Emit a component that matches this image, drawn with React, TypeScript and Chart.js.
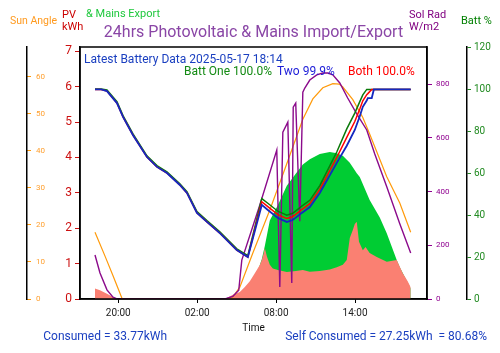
import React, { useEffect, useRef } from 'react';
import { Chart, registerables } from 'chart.js';

Chart.register(...registerables);

// Time values are hours counted from 00:00 on 2025-05-16 (24 = midnight, 32 = 08:00 on 2025-05-17)
const xMin = 17.09;
const xMax = 43.47;
const xTickHours = [20, 26, 32, 38];

// Sun angle (degrees)
const sunTimes = [18.23, 19.0, 19.6, 20.0, 20.3, 28.6, 29.24, 30.23, 31.52, 32.81, 34.03, 34.79, 35.55, 36.31, 36.8, 37.07, 37.83, 38.59, 39.11, 40.41, 41.4, 42.23];
const sunAngle = [18.0, 11.5, 6.3, 2.7, 0, 0, 3.2, 12.4, 24, 36.5, 48.5, 54, 57, 58.1, 58, 57.2, 53.8, 49, 44.5, 33, 25.9, 18];

// Solar radiation (W/m2)
const radTimes = [18.23, 18.61, 19.14, 19.6, 19.9, 28.1, 28.71, 29.16, 29.39, 30.76, 32.05, 32.28, 32.51, 32.89, 33.19, 33.3, 33.49, 33.8, 34.03, 34.18, 34.56, 35.09, 35.55, 35.93, 36.31, 36.84, 37.44, 38.13, 38.89, 39.5, 40.41, 41.4, 42.23];
const solarRad = [164, 97, 34, 7, 0, 0, 10, 33, 145, 350, 555, 45, 622, 659, 60, 715, 730, 290, 771, 786, 816, 835, 842, 842, 835, 805, 749, 690, 630, 540, 418, 280, 171];

// Battery state of charge (%)
const battTimes = [18.23, 18.7, 19.14, 19.9, 20.36, 21.12, 22.18, 22.94, 23.7, 24.68, 25.22, 25.98, 26.74, 27.72, 29.01, 29.85, 30.91, 31.37, 32.13, 32.81, 33.26, 33.95, 34.56, 35.32, 36.61, 37.37, 37.98, 38.36, 38.59, 38.89, 38.97, 39.27, 39.43, 42.23];
const battTwo = [99.8, 99.8, 99, 93.3, 86.7, 78, 67.6, 62.9, 60, 54.3, 50.5, 41, 36.7, 31.4, 23.3, 20, 44.8, 42.4, 38.6, 36.7, 37.6, 41, 43.8, 50.5, 64.8, 73, 80.5, 87, 91.5, 94.5, 95.7, 95.7, 99.8, 99.8];
const battOne = [100, 100, 99.5, 94, 87.3, 78.6, 68.2, 63.5, 60.6, 54.9, 51.1, 41.6, 37.3, 32, 23.9, 20.6, 47.8, 45.6, 41.8, 39.9, 40.8, 44.2, 47, 54, 70, 81, 88.5, 94, 97.2, 99.8, 99.8, 99.8, 99.8, 99.8];
const battBoth = [99.8, 99.8, 99, 93.3, 86.7, 78, 67.6, 62.9, 60, 54.3, 50.5, 41, 36.7, 31.4, 23.3, 20, 46.3, 44, 40.2, 38.3, 39.2, 42.6, 45.4, 52.2, 67.4, 77, 84.5, 90.5, 94.4, 97.3, 97.8, 99.8, 99.8, 99.8];

// PV used in house (kWh, salmon)
const houseTimes = [18.23, 18.61, 19.14, 19.6, 19.9, 28.1, 28.71, 29.24, 29.62, 30.0, 30.38, 30.76, 30.91, 31.06, 31.14, 31.3, 31.52, 31.75, 32.13, 32.81, 33.5, 34.03, 34.56, 35.32, 36.08, 36.61, 37.07, 37.37, 37.6, 37.83, 37.98, 38.13, 38.3, 38.59, 38.8, 39.11, 39.65, 40.41, 41.17, 41.63, 42.0, 42.23];
const houseKwh = [0.3, 0.25, 0.15, 0.06, 0, 0, 0.12, 0.2, 0.34, 0.5, 0.73, 0.96, 1.1, 1.3, 1.44, 1.2, 0.97, 0.86, 0.82, 0.76, 0.79, 0.82, 0.77, 0.79, 0.83, 0.9, 0.97, 1.1, 1.72, 1.95, 2.12, 2.18, 1.62, 1.38, 1.47, 1.3, 1.19, 1.05, 1.1, 0.73, 0.5, 0.33];

// PV generation / mains export (kWh, green)
const pvTimes = [18.23, 29.0, 30.0, 30.38, 30.91, 31.14, 31.52, 32.13, 32.81, 33.42, 34.03, 34.56, 35.32, 36.08, 36.61, 37.07, 37.6, 37.83, 38.13, 38.36, 39.11, 39.88, 40.41, 41.17, 41.4, 42.23];
const pvKwh = [0, 0, 0.3, 0.55, 1.12, 1.5, 2.22, 2.65, 3.2, 3.5, 3.8, 3.95, 4.1, 4.15, 4.12, 4.05, 3.85, 3.72, 3.55, 3.45, 2.8, 2.3, 1.86, 1.1, 0.9, 0.3];

const titleText = '24hrs Photovoltaic & Mains Import/Export';
const latestText = 'Latest Battery Data 2025-05-17 18:14';
const battOneText = 'Batt One 100.0%';
const battTwoText = 'Two 99.9%';
const battBothText = 'Both 100.0%';
const consumedText = 'Consumed = 33.77kWh';
const selfText = 'Self Consumed = 27.25kWh  = 80.68%';

const FONT = 'Roboto';

const pts = (xs: number[], ys: number[]) => xs.map((x, i) => ({ x, y: ys[i] }));

function txt(ctx: CanvasRenderingContext2D, s: string, x: number, y: number, color: string, size: number, align: CanvasTextAlign = 'left') {
  ctx.font = `${size}px ${FONT}`;
  ctx.fillStyle = color;
  ctx.textAlign = align;
  ctx.textBaseline = 'middle';
  ctx.fillText(s, x, y);
}

const framePlugin = {
  id: 'frame',
  afterDatasetsDraw(chart: any) {
    const { ctx, chartArea: ca } = chart;
    ctx.save();
    ctx.strokeStyle = '#000';
    ctx.lineWidth = 1.5;
    ctx.strokeRect(ca.left, ca.top, ca.right - ca.left, ca.bottom - ca.top);
    ctx.restore();
  },
  afterDraw(chart: any) {
    const { ctx, chartArea: ca } = chart;
    ctx.save();
    txt(ctx, titleText, (ca.left + ca.right) / 2, 33, '#8a46a6', 16, 'center');
    txt(ctx, 'Sun Angle', 10, 21, '#ff9a1f', 10.5);
    txt(ctx, 'PV', 62, 15, '#cc0000', 11);
    txt(ctx, 'kWh', 62, 27, '#cc0000', 11);
    txt(ctx, '& Mains Export', 86, 14, '#1ec83c', 11);
    txt(ctx, 'Sol Rad', 409, 15, '#800080', 11);
    txt(ctx, 'W/m2', 409, 27, '#800080', 11);
    txt(ctx, 'Batt %', 461, 21, '#008000', 11);
    txt(ctx, latestText, ca.left + 4, 60, '#1a3fc0', 12);
    txt(ctx, battOneText, 184, 72, '#138a13', 12);
    txt(ctx, battTwoText, 277, 72, '#1c1cd8', 12);
    txt(ctx, battBothText, 348, 72, '#ff0000', 12);
    txt(ctx, consumedText, 167, 337, '#1a3fc0', 12, 'right');
    txt(ctx, selfText, 487, 337, '#1a3fc0', 12, 'right');
    ctx.restore();
  },
};

function fmtHour(v: number) {
  const h = ((Math.round(v) % 24) + 24) % 24;
  return `${String(h).padStart(2, '0')}:00`;
}

export default function App() {
  const ref = useRef<HTMLCanvasElement>(null);

  useEffect(() => {
    if (!ref.current) return;
    Chart.defaults.font.family = FONT;
    const line = (label: string, xs: number[], ys: number[], color: string, axis: string, width: number) => ({
      label,
      data: pts(xs, ys),
      borderColor: color,
      backgroundColor: color,
      borderWidth: width,
      pointRadius: 0,
      fill: false,
      yAxisID: axis,
      tension: 0,
    });
    const area = (label: string, xs: number[], ys: number[], color: string) => ({
      label,
      data: pts(xs, ys),
      borderColor: color,
      backgroundColor: color,
      borderWidth: 0,
      pointRadius: 0,
      fill: 'origin',
      yAxisID: 'pv',
      tension: 0,
    });

    const chart = new Chart(ref.current, {
      type: 'line',
      data: {
        datasets: [
          line('Batt Two %', battTimes, battTwo, '#1428c0', 'batt', 1.8),
          line('Batt Both %', battTimes, battBoth, '#ff0000', 'batt', 1.5),
          line('Batt One %', battTimes, battOne, '#0a7a0a', 'batt', 1.5),
          line('Solar Radiation', radTimes, solarRad, '#8b0a8b', 'rad', 1.4),
          line('Sun Angle', sunTimes, sunAngle, '#ff9a0a', 'sun', 1.2),
          area('PV House', houseTimes, houseKwh, '#fa8072'),
          area('PV / Export', pvTimes, pvKwh, '#00cc33'),
        ] as any,
      },
      options: {
        animation: false,
        responsive: false,
        devicePixelRatio: 1,
        layout: { padding: { top: 47, bottom: 18, left: 0, right: 0 } },
        plugins: { legend: { display: false }, tooltip: { enabled: false }, title: { display: false } },
        scales: {
          x: {
            type: 'linear',
            min: xMin,
            max: xMax,
            afterBuildTicks: (s: any) => { s.ticks = xTickHours.map((v) => ({ value: v })); },
            afterFit: (s: any) => { s.height = 36; },
            ticks: { callback: (v: any) => fmtHour(Number(v)), color: '#222', font: { size: 10 }, padding: 4, maxRotation: 0, autoSkip: false },
            grid: { drawOnChartArea: false, tickLength: 4, color: '#000' },
            border: { color: '#000', width: 1.5 },
            title: { display: true, text: 'Time', color: '#111', font: { size: 10 }, padding: { top: 0, bottom: 1 } },
          },
          sun: {
            type: 'linear', position: 'left', weight: 2, min: 0, max: 68,
            afterFit: (s: any) => { s.width = 27; },
            ticks: { stepSize: 10, mirror: true, padding: 9, includeBounds: false, color: '#ffa030', font: { size: 8 } },
            grid: { drawOnChartArea: false, tickLength: -4, color: '#ff9a0a' },
            border: { color: '#000', width: 1.5 },
          },
          pv: {
            type: 'linear', position: 'left', weight: 1, min: 0, max: 7.12,
            afterFit: (s: any) => { s.width = 53; },
            ticks: { stepSize: 1, includeBounds: false, padding: 3, color: '#cc1111', font: { size: 12 } },
            grid: { drawOnChartArea: false, tickLength: 5, color: '#cc1111' },
            border: { color: '#000', width: 1.5 },
          },
          rad: {
            type: 'linear', position: 'right', weight: 1, min: 0, max: 939,
            afterFit: (s: any) => { s.width = 40; },
            ticks: { stepSize: 200, includeBounds: false, padding: 4, color: '#900090', font: { size: 8 } },
            grid: { drawOnChartArea: false, tickLength: 5, color: '#900090' },
            border: { color: '#000', width: 1.5 },
          },
          batt: {
            type: 'linear', position: 'right', weight: 2, min: 0, max: 120,
            afterFit: (s: any) => { s.width = 33; },
            ticks: { stepSize: 20, includeBounds: false, padding: 3, color: '#228b22', font: { size: 10 } },
            grid: { drawOnChartArea: false, tickLength: 4, color: '#228b22' },
            border: { color: '#000', width: 1.5 },
          },
        },
      } as any,
      plugins: [framePlugin],
    });
    return () => chart.destroy();
  }, []);

  return (
    <div style={{ position: 'absolute', left: 0, top: 0, width: 500, height: 353, background: '#fff' }}>
      <canvas ref={ref} width={500} height={353} style={{ display: 'block' }} />
    </div>
  );
}
